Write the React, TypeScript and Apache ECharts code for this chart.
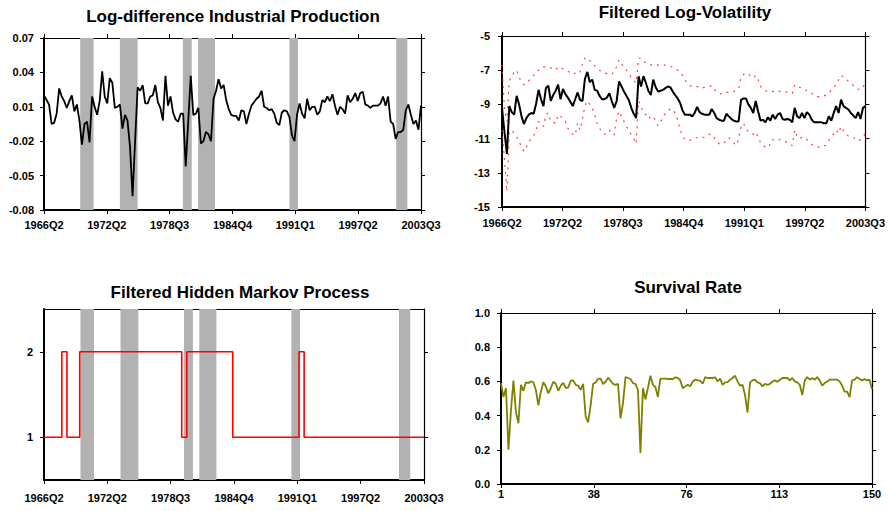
import React, { useEffect, useRef } from "react";
import * as echarts from "echarts";

// ---------- data ----------
const quarterTicks = ["1966Q2", "1972Q2", "1978Q3", "1984Q4", "1991Q1", "1997Q2", "2003Q3"];
const obsTicks = ["1", "38", "76", "113", "150"];
const ipTickValues = [-0.08, -0.05, -0.02, 0.01, 0.04, 0.07];
const volTickValues = [-15, -13, -11, -9, -7, -5];
const regimeTickValues = [1, 2];
const survivalTickValues = [0, 0.2, 0.4, 0.6, 0.8, 1.0];

// recession periods (quarter index from 1966Q2)
const recessions: [number, number][] = [
  [14.3, 19.6], [30, 37], [54.9, 58.4], [60.9, 67.6], [97, 100.4], [139.2, 143.6],
];

const ipGrowth = [
  0.020, 0.016, 0.012, -0.005, -0.004, 0.004, 0.026, 0.019, 0.015, 0.009,
  0.015, 0.020, 0.006, 0.012, -0.002, -0.023, -0.005, -0.003, -0.021, 0.019,
  0.010, 0.003, 0.015, 0.041, 0.019, 0.013, 0.035, 0.031, 0.009, 0.010,
  0.012, -0.009, 0.003, -0.002, -0.025, -0.068, -0.020, 0.027, 0.024, 0.029,
  0.013, 0.013, 0.019, 0.020, 0.029, 0.014, 0.009, -0.002, 0.037, 0.011,
  0.019, 0.005, -0.001, -0.003, 0.004, 0.004, -0.042, -0.003, 0.037, 0.003,
  0.004, 0.009, -0.022, -0.020, -0.012, -0.014, -0.020, 0.017, 0.024, 0.034,
  0.026, 0.029, 0.016, 0.008, 0.003, 0.002, 0.002, -0.002, 0.007, 0.006,
  -0.005, 0.004, 0.011, 0.014, 0.017, 0.019, 0.024, 0.010, 0.009, 0.007,
  0.008, 0.004, -0.004, -0.006, 0.005, 0.007, 0.006, 0.001, -0.015, -0.020,
  0.003, 0.013, 0.004, 0.000, 0.017, 0.007, 0.010, 0.010, 0.003, 0.006,
  0.016, 0.014, 0.019, 0.015, 0.021, 0.011, 0.003, 0.010, 0.008, 0.004,
  0.020, 0.014, 0.017, 0.022, 0.015, 0.022, 0.023, 0.012, 0.011, 0.009,
  0.011, 0.011, 0.011, 0.013, 0.019, 0.011, 0.019, -0.003, -0.005, -0.018,
  -0.012, -0.012, -0.010, 0.007, 0.012, 0.003, -0.005, -0.002, -0.010, 0.011,
];

const logVol = [
  -9.2, -10.6, -11.9, -9.1, -9.45, -9.6, -8.5, -9.0, -9.7, -10.15,
  -9.8, -9.6, -9.5, -9.55, -8.95, -8.15, -8.7, -9.1, -8.05, -7.9,
  -8.8, -8.45, -8.2, -7.85, -8.7, -8.1, -8.4, -8.6, -8.85, -9.1,
  -8.7, -8.3, -8.75, -8.8, -7.5, -7.1, -7.7, -7.55, -8.15, -8.2,
  -8.5, -8.7, -8.7, -8.6, -8.35, -8.8, -9.2, -8.8, -7.65, -7.95,
  -8.25, -8.5, -8.75, -9.2, -9.55, -9.8, -7.35, -7.95, -7.35, -7.75,
  -8.2, -8.45, -7.55, -8.0, -8.25, -8.2, -8.15, -8.05, -7.95, -8.0,
  -8.25, -8.45, -8.65, -8.9, -9.35, -9.6, -9.6, -9.6, -9.7, -9.5,
  -9.15, -9.45, -9.55, -9.6, -9.6, -9.6, -9.27, -9.5, -9.8, -9.9,
  -9.95, -9.95, -9.55, -9.7, -9.85, -9.95, -10.0, -10.0, -8.73, -8.65,
  -8.65, -9.0, -9.2, -9.5, -8.8, -9.4, -9.95, -9.9, -10.05, -9.75,
  -9.95, -9.6, -9.85, -9.6, -9.5, -9.85, -9.9, -9.85, -9.9, -10.05,
  -9.2, -9.7, -9.8, -9.5, -9.8, -9.45, -9.6, -9.9, -10.05, -10.05,
  -10.05, -10.05, -10.1, -10.1, -9.7, -9.95, -9.5, -9.1, -9.5, -8.72,
  -9.1, -9.2, -9.3, -9.5, -9.65, -9.8, -9.45, -9.85, -9.2, -9.1,
];

const volUpper = [
  -6.7, -9.3, -10.0, -7.6, -7.4, -7.1, -7.0, -7.4, -7.7, -7.85,
  -7.8, -7.6, -7.45, -7.3, -7.1, -7.0, -6.9, -6.8, -6.8, -6.8,
  -6.85, -7.0, -6.95, -6.85, -6.95, -6.9, -6.95, -7.05, -7.15, -7.1,
  -7.2, -7.25, -7.1, -6.6, -6.3, -6.25, -6.45, -6.6, -6.75, -6.9,
  -7.0, -7.1, -7.15, -7.2, -7.25, -7.25, -7.0, -6.8, -6.4, -6.6,
  -6.85, -7.0, -7.2, -7.45, -7.6, -7.75, -6.3, -6.3, -6.5, -6.55,
  -6.6, -6.7, -6.65, -6.65, -6.7, -6.7, -6.7, -6.7, -6.75, -6.75,
  -6.85, -6.9, -7.0, -7.1, -7.3, -7.55, -7.8, -7.9, -7.95, -8.0,
  -7.95, -8.0, -8.05, -8.0, -7.95, -7.95, -7.9, -8.1, -8.3, -8.35,
  -8.4, -8.35, -8.3, -8.3, -8.25, -8.25, -8.15, -8.1, -7.4, -7.25,
  -7.15, -7.2, -7.35, -7.45, -7.3, -7.55, -7.95, -8.1, -8.2, -8.25,
  -8.2, -8.25, -8.2, -8.2, -8.25, -8.2, -8.25, -8.3, -8.35, -8.35,
  -7.85, -7.95, -8.0, -8.05, -8.1, -8.2, -8.25, -8.35, -8.5, -8.55,
  -8.55, -8.55, -8.5, -8.45, -8.35, -8.15, -8.0, -7.85, -7.55, -7.3,
  -7.4, -7.5, -7.65, -7.75, -7.9, -8.0, -8.1, -8.15, -8.0, -7.75,
];

const volLower = [
  -10.5, -12.2, -14.1, -10.6, -10.5, -10.7, -10.9, -11.2, -11.45, -11.75,
  -11.5, -11.2, -11.0, -10.8, -10.5, -10.0, -10.1, -10.3, -9.6, -9.5,
  -10.0, -10.05, -10.1, -9.6, -9.7, -9.8, -10.0, -10.4, -10.6, -10.75,
  -10.8, -10.1, -10.5, -9.8, -9.1, -8.8, -9.0, -9.2, -9.6, -10.1,
  -10.4, -10.6, -10.75, -10.6, -10.5, -10.7, -10.8, -9.8, -9.4, -9.7,
  -10.0, -10.3, -10.5, -10.8, -11.0, -11.3, -8.8, -9.1, -9.5, -9.6,
  -9.85, -9.7, -9.7, -10.0, -10.25, -10.0, -9.8, -9.5, -9.4, -9.25,
  -9.3, -9.5, -9.9, -10.5, -10.85, -11.05, -11.05, -11.1, -11.05, -10.95,
  -10.95, -10.9, -10.9, -10.95, -10.85, -10.75, -10.75, -10.95, -11.15, -11.3,
  -11.3, -11.3, -11.05, -10.95, -11.1, -11.25, -11.4, -11.0, -10.3, -10.1,
  -10.4, -10.6, -10.7, -10.75, -10.6, -10.9, -11.25, -11.4, -11.5, -11.55,
  -11.3, -11.05, -11.15, -11.1, -11.05, -11.1, -11.15, -11.25, -11.35, -11.4,
  -10.5, -10.9, -11.0, -10.9, -10.95, -11.05, -11.2, -11.35, -11.4, -11.45,
  -11.5, -11.45, -11.45, -11.35, -11.1, -10.95, -10.7, -10.5, -10.7, -10.3,
  -10.55, -10.75, -10.85, -10.9, -10.95, -11.0, -11.15, -11.05, -10.9, -10.7,
];

const regime = [
  1, 1, 1, 1, 1, 1, 1, 2, 2, 1,
  1, 1, 1, 1, 2, 2, 2, 2, 2, 2,
  2, 2, 2, 2, 2, 2, 2, 2, 2, 2,
  2, 2, 2, 2, 2, 2, 2, 2, 2, 2,
  2, 2, 2, 2, 2, 2, 2, 2, 2, 2,
  2, 2, 2, 2, 1, 1, 2, 2, 2, 2,
  2, 2, 2, 2, 2, 2, 2, 2, 2, 2,
  2, 2, 2, 2, 1, 1, 1, 1, 1, 1,
  1, 1, 1, 1, 1, 1, 1, 1, 1, 1,
  1, 1, 1, 1, 1, 1, 1, 1, 1, 1,
  2, 2, 1, 1, 1, 1, 1, 1, 1, 1,
  1, 1, 1, 1, 1, 1, 1, 1, 1, 1,
  1, 1, 1, 1, 1, 1, 1, 1, 1, 1,
  1, 1, 1, 1, 1, 1, 1, 1, 1, 1,
  1, 1, 1, 1, 1, 1, 1, 1, 1, 1,
];

const survival = [
  0.59, 0.51, 0.56, 0.20, 0.43, 0.605, 0.42, 0.355, 0.58, 0.545,
  0.595, 0.59, 0.60, 0.595, 0.55, 0.46, 0.54, 0.595, 0.57, 0.53,
  0.56, 0.598, 0.586, 0.545, 0.575, 0.592, 0.56, 0.565, 0.604, 0.606,
  0.58, 0.575, 0.55, 0.586, 0.394, 0.36, 0.46, 0.586, 0.594, 0.616,
  0.616, 0.584, 0.598, 0.622, 0.604, 0.586, 0.58, 0.586, 0.384, 0.473,
  0.625, 0.62, 0.614, 0.59, 0.586, 0.551, 0.182, 0.56, 0.496, 0.56,
  0.633, 0.58, 0.567, 0.508, 0.616, 0.616, 0.616, 0.614, 0.614, 0.614,
  0.624, 0.62, 0.606, 0.56, 0.571, 0.58, 0.571, 0.60, 0.61, 0.606,
  0.604, 0.586, 0.625, 0.62, 0.62, 0.62, 0.624, 0.60, 0.616, 0.58,
  0.594, 0.596, 0.61, 0.62, 0.633, 0.60, 0.575, 0.58, 0.52, 0.418,
  0.594, 0.606, 0.61, 0.594, 0.59, 0.571, 0.586, 0.58, 0.586, 0.598,
  0.606, 0.598, 0.61, 0.62, 0.62, 0.62, 0.606, 0.62, 0.60, 0.594,
  0.58, 0.52, 0.606, 0.625, 0.61, 0.62, 0.61, 0.625, 0.606, 0.575,
  0.59, 0.60, 0.61, 0.61, 0.61, 0.61, 0.60, 0.575, 0.54, 0.54,
  0.508, 0.606, 0.61, 0.625, 0.614, 0.606, 0.614, 0.606, 0.61, 0.555,
];

// ---------- helpers ----------
const FONT = "'Liberation Sans', Arial, sans-serif";
const N = ipGrowth.length;
const lastIdx = N - 1;
const qStep = lastIdx / (quarterTicks.length - 1);
const qPos = quarterTicks.map((_, k) => k * qStep);
const oStep = lastIdx / (obsTicks.length - 1);
const oPos = obsTicks.map((_, k) => k * oStep);

const lbl = { fontSize: 11, fontWeight: "bold", color: "#000", fontFamily: FONT };
const toPairs = (arr: number[]) => arr.map((v, i) => [i, v]);

function xPair(grid: number, pos: number[], labels: string[], step: number, margin: number, topTicks = true) {
  return [
    {
      type: "value", gridIndex: grid, min: 0, max: lastIdx, position: "bottom",
      axisLine: { show: true, onZero: false, lineStyle: { color: "#000", width: 2 } },
      axisTick: { show: true, inside: false, length: 4, customValues: pos, lineStyle: { color: "#000", width: 1 } },
      axisLabel: {
        show: true, customValues: pos, margin, ...lbl,
        formatter: (v: number) => labels[Math.round(v / step)] ?? "",
      },
      splitLine: { show: false },
    },
    {
      type: "value", gridIndex: grid, min: 0, max: lastIdx, position: "top",
      axisLine: { show: true, onZero: false, lineStyle: { color: "#000", width: 1 } },
      axisTick: { show: topTicks, inside: false, length: 4, customValues: pos, lineStyle: { color: "#000", width: 1 } },
      axisLabel: { show: false },
      splitLine: { show: false },
    },
  ];
}

function yPair(grid: number, min: number, max: number, ticks: number[], fmt: (v: number) => string, margin: number) {
  return [
    {
      type: "value", gridIndex: grid, min, max, position: "left",
      axisLine: { show: true, onZero: false, lineStyle: { color: "#000", width: 2 } },
      axisTick: { show: true, inside: false, length: 4, customValues: ticks, lineStyle: { color: "#000", width: 1 } },
      axisLabel: { show: true, customValues: ticks, margin, ...lbl, formatter: fmt },
      splitLine: { show: false },
    },
    {
      type: "value", gridIndex: grid, min, max, position: "right",
      axisLine: { show: true, onZero: false, lineStyle: { color: "#000", width: 1.2 } },
      axisTick: { show: true, inside: false, length: 4, customValues: ticks, lineStyle: { color: "#000", width: 1 } },
      axisLabel: { show: false },
      splitLine: { show: false },
    },
  ];
}

const recessionArea = (axisIdx: number) => ({
  type: "line",
  xAxisIndex: axisIdx,
  yAxisIndex: axisIdx,
  data: [],
  z: 1,
  silent: true,
  markArea: {
    silent: true,
    itemStyle: { color: "#b2b2b2", opacity: 1 },
    data: recessions.map(([a, b]) => [{ xAxis: a }, { xAxis: b }]),
  },
});

const titleText = (text: string, x: number, y: number) => ({
  type: "text",
  x,
  y,
  style: {
    text,
    font: `bold 17px ${FONT}`,
    fill: "#000",
    textAlign: "center",
    align: "center",
    textVerticalAlign: "middle",
    verticalAlign: "middle",
  },
});

export default function App() {
  const ref = useRef<HTMLDivElement>(null);

  useEffect(() => {
    if (!ref.current) return;
    const chart = echarts.init(ref.current, null, { renderer: "svg" });
    const bandStyle = { color: "#ff2020", width: 1.2, type: [2, 5], opacity: 0.85 };
    const option: any = {
      animation: false,
      backgroundColor: "#fff",
      grid: [
        { left: 44, top: 38, width: 377, height: 172 },
        { left: 502, top: 36, width: 366, height: 171 },
        { left: 44, top: 309, width: 380, height: 171 },
        { left: 501, top: 313, width: 371, height: 171 },
      ],
      xAxis: [
        ...xPair(0, qPos, quarterTicks, qStep, 9),
        ...xPair(1, qPos, quarterTicks, qStep, 10),
        ...xPair(2, qPos, quarterTicks, qStep, 12, false),
        ...xPair(3, oPos, obsTicks, oStep, 4),
      ],
      yAxis: [
        ...yPair(0, ipTickValues[0], ipTickValues[ipTickValues.length - 1], ipTickValues, (v) => v.toFixed(2), 10),
        ...yPair(1, volTickValues[0], volTickValues[volTickValues.length - 1], volTickValues, (v) => String(Math.round(v)), 12),
        ...yPair(2, 0.5, 2.5, regimeTickValues, (v) => String(Math.round(v)), 11),
        ...yPair(3, survivalTickValues[0], survivalTickValues[survivalTickValues.length - 1], survivalTickValues, (v) => v.toFixed(1), 11),
      ],
      graphic: [
        titleText("Log-difference Industrial Production", 233, 16),
        titleText("Filtered Log-Volatility", 685, 12),
        titleText("Filtered Hidden Markov Process", 240, 292),
        titleText("Survival Rate", 688, 287),
      ],
      series: [
        recessionArea(0),
        {
          type: "line", xAxisIndex: 0, yAxisIndex: 0, z: 3, showSymbol: false, symbol: "none",
          data: toPairs(ipGrowth), lineStyle: { color: "#000", width: 1.8 },
        },
        {
          type: "line", xAxisIndex: 2, yAxisIndex: 2, z: 2, showSymbol: false, symbol: "none",
          data: toPairs(volUpper), lineStyle: bandStyle,
        },
        {
          type: "line", xAxisIndex: 2, yAxisIndex: 2, z: 2, showSymbol: false, symbol: "none",
          data: toPairs(volLower), lineStyle: bandStyle,
        },
        {
          type: "line", xAxisIndex: 2, yAxisIndex: 2, z: 3, showSymbol: false, symbol: "none",
          data: toPairs(logVol), lineStyle: { color: "#000", width: 2 },
        },
        recessionArea(4),
        {
          type: "line", xAxisIndex: 4, yAxisIndex: 4, z: 3, showSymbol: false, symbol: "none", step: "end",
          data: toPairs(regime), lineStyle: { color: "#ff0000", width: 1.6 },
        },
        {
          type: "line", xAxisIndex: 6, yAxisIndex: 6, z: 3, showSymbol: false, symbol: "none",
          data: toPairs(survival), lineStyle: { color: "#808000", width: 1.8 },
        },
      ],
    };
    chart.setOption(option);
    return () => chart.dispose();
  }, []);

  return (
    <div
      ref={ref}
      style={{ position: "fixed", left: 0, top: 0, width: 888, height: 511, background: "#fff" }}
    />
  );
}
